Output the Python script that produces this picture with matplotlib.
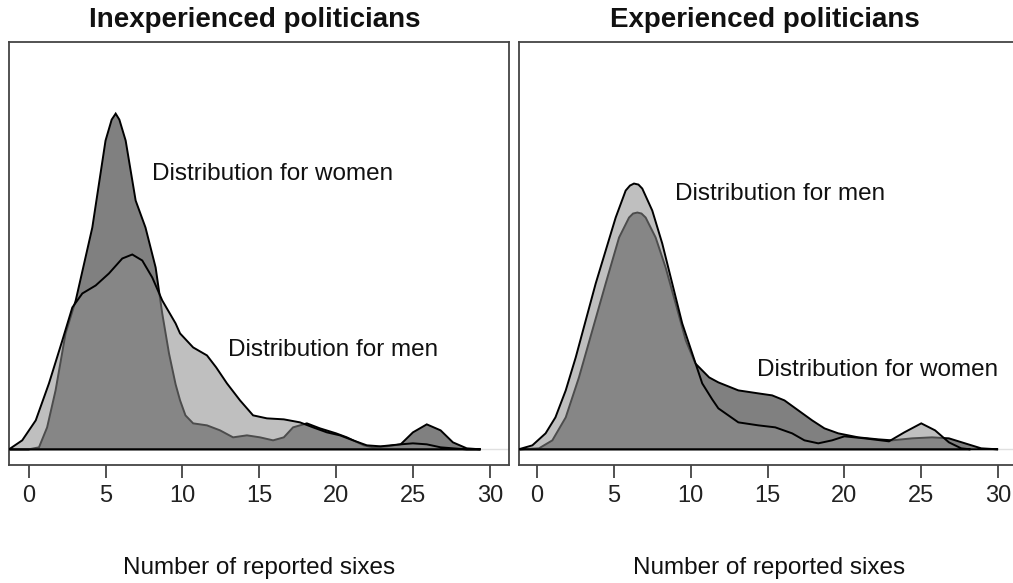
import matplotlib.pyplot as plt

plt.rcParams['font.family'] = ['Liberation Sans', 'DejaVu Sans']

# densities (x = number of reported sixes)
inexp_women_x = [-1.3, 0.0, 0.67, 1.2, 1.75, 2.4, 3.06, 4.14, 5.0, 5.4, 5.66, 5.9, 6.31, 6.96, 7.6,
                 8.26, 8.69, 9.13, 9.56, 9.85, 10.2, 10.7, 11.6, 12.45, 13.3, 14.2, 15.05, 15.9,
                 16.6, 17.2, 18.1, 18.95, 20.0, 20.7, 21.8, 22.4, 23.3, 24.2, 25.0, 25.9, 26.8,
                 27.6, 28.5, 29.4]
inexp_women_y = [0, 0, 0.001, 0.011, 0.0295, 0.058, 0.0745, 0.111, 0.1545, 0.165, 0.168, 0.165,
                 0.1545, 0.1245, 0.111, 0.091, 0.068, 0.048, 0.0325, 0.0245, 0.017, 0.013, 0.012,
                 0.0095, 0.006, 0.007, 0.006, 0.0045, 0.006, 0.011, 0.013, 0.0105, 0.008, 0.006,
                 0.002, 0.001, 0.0015, 0.0025, 0.0085, 0.0125, 0.0095, 0.0035, 0.0005, 0]

inexp_men_x = [-1.28, -0.42, 0.46, 1.32, 2.19, 2.84, 3.49, 4.36, 5.22, 6.09, 6.74, 7.39, 8.04, 8.69,
               9.56, 9.85, 10.7, 11.6, 12.2, 12.9, 13.75, 14.6, 15.5, 16.6, 17.65, 18.5, 19.4,
               20.25, 21.1, 22.0, 22.9, 24.2, 25.0, 25.9, 26.8, 27.6, 28.5, 29.4]
inexp_men_y = [0, 0.0045, 0.0145, 0.033, 0.0545, 0.071, 0.078, 0.082, 0.088, 0.0955, 0.0975, 0.0945,
               0.086, 0.0745, 0.063, 0.058, 0.051, 0.047, 0.041, 0.033, 0.0245, 0.017, 0.0155,
               0.015, 0.0135, 0.011, 0.0085, 0.007, 0.0045, 0.002, 0.0015, 0.0025, 0.003, 0.0025,
               0.001, 0.0005, 0, 0]

exp_men_x = [-1.2, -0.3, 0.56, 1.2, 1.87, 2.52, 3.17, 3.82, 4.47, 5.12, 5.77, 6.05, 6.31, 6.6, 6.85,
             7.5, 8.15, 8.8, 9.45, 10.1, 10.75, 11.4, 11.8, 13.1, 14.4, 15.5, 16.6, 17.4, 18.3,
             19.2, 20.0, 21.3, 22.9, 23.9, 25.0, 25.9, 26.8, 27.6, 28.2]
exp_men_y = [0, 0.002, 0.008, 0.016, 0.0295, 0.046, 0.0645, 0.083, 0.0995, 0.116, 0.1295, 0.132,
             0.133, 0.1325, 0.1305, 0.1195, 0.103, 0.083, 0.063, 0.048, 0.033, 0.025, 0.0205,
             0.0135, 0.012, 0.011, 0.008, 0.0045, 0.003, 0.0045, 0.0065, 0.0055, 0.004, 0.0085,
             0.013, 0.0095, 0.0035, 0.0005, 0]

exp_women_x = [-1.2, 0.13, 1.0, 1.87, 2.73, 3.6, 4.47, 5.34, 5.99, 6.25, 6.53, 6.8, 7.07, 7.72, 8.37,
               9.02, 9.68, 10.3, 11.2, 11.8, 13.1, 14.4, 15.3, 16.1, 17.0, 17.9, 18.7, 19.6, 20.9,
               22.2, 23.1, 24.4, 25.7, 26.8, 27.85, 28.9, 30.0]
exp_women_y = [0, 0.0005, 0.0045, 0.016, 0.036, 0.0595, 0.083, 0.106, 0.116, 0.118, 0.1185, 0.118,
               0.116, 0.106, 0.091, 0.073, 0.0545, 0.043, 0.036, 0.0335, 0.0295, 0.028, 0.027,
               0.0245, 0.0195, 0.0145, 0.0105, 0.008, 0.006, 0.005, 0.0045, 0.0055, 0.006, 0.0055,
               0.003, 0.0005, 0]

ticks = [0, 5, 10, 15, 20, 25, 30]
ymax = 0.196

panels = [
    {'title': 'Inexperienced politicians', 'rect': [9 / 1013, 118 / 583, 500 / 1013, 423 / 583],
     'xlim': (-1.28, 31.25), 'women': (inexp_women_x, inexp_women_y), 'men': (inexp_men_x, inexp_men_y),
     'labels': [('Distribution for women', 8.02, 0.138), ('Distribution for men', 12.97, 0.0495)]},
    {'title': 'Experienced politicians', 'rect': [519 / 1013, 118 / 583, 500 / 1013, 423 / 583],
     'xlim': (-1.17, 31.36), 'women': (exp_women_x, exp_women_y), 'men': (exp_men_x, exp_men_y),
     'labels': [('Distribution for men', 8.98, 0.128), ('Distribution for women', 14.31, 0.0395)]},
]

fig = plt.figure(figsize=(10.13, 5.83), dpi=100)

for p in panels:
    ax = fig.add_axes(p['rect'])
    ax.axhline(0, color='#e0e0e0', lw=1, zorder=0)
    wx, wy = p['women']
    mx, my = p['men']
    ax.fill(wx, wy, facecolor='#808080', edgecolor='black', lw=1.4, zorder=1)
    ax.fill(mx, my, facecolor=(140 / 255, 140 / 255, 140 / 255, 0.55), edgecolor='none', zorder=2)
    ax.fill(mx, my, facecolor='none', edgecolor='black', lw=1.4, zorder=3)
    for txt, tx, ty in p['labels']:
        ax.text(tx, ty, txt, ha='left', va='center', fontsize=17.5, color='#111111')
    ax.set_xlim(*p['xlim'])
    ax.set_ylim(-0.04 * ymax, 1.04 * ymax)
    ax.set_xticks(ticks)
    ax.set_yticks([])
    ax.tick_params(axis='x', direction='out', length=9.4, width=1.1, pad=5,
                   labelsize=17, colors='#222222')
    for s in ax.spines.values():
        s.set_color('#444444')
        s.set_linewidth(1.3)
    cx = p['rect'][0] + p['rect'][2] / 2
    fig.text(cx - 4 / 1013, 1 - 20 / 583, p['title'], ha='center', va='center',
             fontsize=20, fontweight='bold', color='#111111')
    fig.text(cx, 1 - 568 / 583, 'Number of reported sixes', ha='center', va='center',
             fontsize=17.5, color='#111111')

plt.savefig('out.png', dpi=100)
